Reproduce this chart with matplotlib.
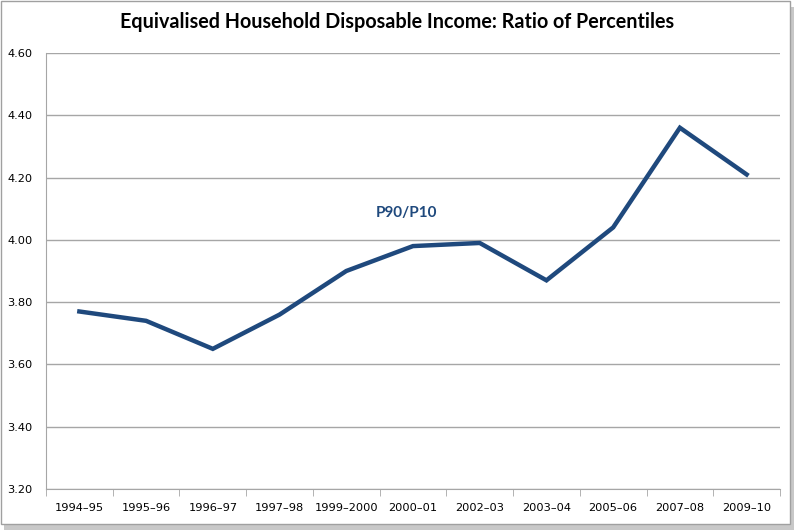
import numpy as np
import matplotlib.pyplot as plt
from matplotlib.patches import Rectangle

# data
years = ["1994–95", "1995–96", "1996–97", "1997–98", "1999–2000", "2000–01",
         "2002–03", "2003–04", "2005–06", "2007–08", "2009–10"]
p90_p10 = [3.77, 3.74, 3.65, 3.76, 3.90, 3.98, 3.99, 3.87, 4.04, 4.36, 4.21]
y_ticks = [3.20, 3.40, 3.60, 3.80, 4.00, 4.20, 4.40, 4.60]

line_col = "#1F497D"
grid_col = "#A6A6A6"

fig = plt.figure(figsize=(7.98, 5.30), dpi=100)

# frame with drop shadow, like the pasted screenshot
fig.patches.append(Rectangle((4/798, 0), 790/798, 523/530, transform=fig.transFigure,
                             facecolor="#C8C8C8", edgecolor="none", zorder=-2))
fig.patches.append(Rectangle((1/798, 6/530), 789/798, 523/530, transform=fig.transFigure,
                             facecolor="white", edgecolor="#A0A0A0", lw=1, zorder=-1))

ax = fig.add_axes([46/798, 41/530, 734/798, 436/530])
x = np.arange(len(years))
ax.plot(x, p90_p10, color=line_col, lw=3.2, solid_joinstyle="miter")

ax.set_xlim(-0.5, len(years) - 0.5)
ax.set_ylim(3.2, 4.6)
ax.set_yticks(y_ticks)
ax.set_yticklabels(["%.2f" % v for v in y_ticks])
ax.set_xticks(x)
ax.set_xticklabels(years)
ax.set_xticks(np.arange(-0.5, len(years)), minor=True)

ax.grid(axis="y", color=grid_col, lw=1)
ax.set_axisbelow(True)
for s in ["top", "right"]:
    ax.spines[s].set_visible(False)
for s in ["left", "bottom"]:
    ax.spines[s].set_color(grid_col)
ax.tick_params(axis="y", length=0, pad=9.5, labelsize=8.2)
ax.tick_params(axis="x", which="major", length=0, pad=10, labelsize=8.2)
ax.tick_params(axis="x", which="minor", length=5, color=grid_col)
for lab in ax.get_xticklabels() + ax.get_yticklabels():
    lab.set_family("DejaVu Sans")

ax.text(5 - 0.1, 4.087, "P90/P10", color=line_col, fontsize=11, fontweight="bold",
        family="Lato", ha="center", va="center")

fig.text(397/798, 1 - 22/530, "Equivalised Household Disposable Income: Ratio of Percentiles",
         ha="center", va="center", fontsize=14.2, fontweight="bold", family="Lato")

fig.savefig("out.png", dpi=100)
